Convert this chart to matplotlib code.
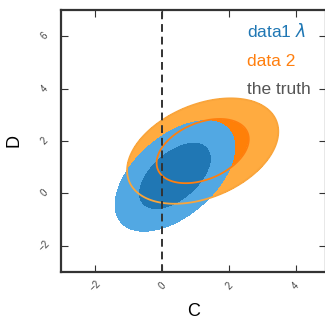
import numpy as np
import matplotlib
matplotlib.use("Agg")
import matplotlib.pyplot as plt
from matplotlib.lines import Line2D

# ---- data ----
chain_names = ["data1 $\\lambda$", "data 2"]
mean_c = [0.38, 1.21]
mean_d = [0.66, 1.61]
sigma_c = [0.72, 0.91]
sigma_d = [0.85, 0.81]
rho = [0.52, 0.37]
truth_c = 0.0
truth_name = "the truth"
conf_levels = [0.6827, 0.9545]
x_ticks = [-2, 0, 2, 4]
y_ticks = [-2, 0, 2, 4, 6]

plt.rcParams['font.family'] = ['Liberation Sans', 'DejaVu Sans']
plt.rcParams['mathtext.fontset'] = 'dejavusans'

fill_colors = [["#2077b4", "#52a8e3"], ["#ff8008", "#ffab40"]]
line_colors = ["#ff7f0e", "#f9a53c"]
text_colors = ["#1f77b4", "#ff7f0e", "#555555"]

fig = plt.figure(figsize=(3.25, 3.2), dpi=100)
ax = fig.add_axes([61/325, 1 - 271.7/320, (326 - 61)/325, (271.7 - 10)/320])

xs = np.linspace(-3.5, 5.5, 500)
ys = np.linspace(-3.5, 7.5, 500)
X, Y = np.meshgrid(xs, ys)
r2 = [-2 * np.log(1 - p) for p in conf_levels]

def maha(i):
    dx = (X - mean_c[i]) / sigma_c[i]
    dy = (Y - mean_d[i]) / sigma_d[i]
    return (dx**2 - 2 * rho[i] * dx * dy + dy**2) / (1 - rho[i]**2)

d_blue = maha(0)
d_orng = maha(1)

ax.contourf(X, Y, d_orng, levels=[0, r2[0], r2[1]], colors=fill_colors[1], zorder=1)
ax.contourf(X, Y, d_blue, levels=[0, r2[0], r2[1]], colors=fill_colors[0], zorder=2)
ax.contour(X, Y, d_orng, levels=[r2[0], r2[1]], colors=line_colors, linewidths=1.3, zorder=3)

ax.axvline(truth_c, color="#333333", lw=1.4, ls=(0, (4, 2.5)), zorder=4)

ax.set_xlim(-3.03, 4.90)
ax.set_ylim(-3.0, 7.0)
ax.set_xticks(x_ticks)
ax.set_yticks(y_ticks)
ax.tick_params(direction="in", length=5, width=0.8, color="#333333",
               top=True, right=True, labelsize=7, labelcolor="#444444")
for lab in ax.get_xticklabels() + ax.get_yticklabels():
    lab.set_rotation(45)
    lab.set_ha("center")
    lab.set_va("center")
ax.tick_params(axis="x", pad=10)
ax.tick_params(axis="y", pad=12)
for sp in ax.spines.values():
    sp.set_color("#333333")
    sp.set_linewidth(1.6)

ax.set_xlabel("C", fontsize=13, labelpad=7)
ax.set_ylabel("D", fontsize=13, labelpad=10)

handles = [Line2D([], [], color=c) for c in text_colors]
leg = ax.legend(handles, chain_names + [truth_name], loc="upper right",
                bbox_to_anchor=(1.0, 1.012), frameon=False, handlelength=0,
                handletextpad=0, fontsize=12.5, labelspacing=0.75)
for t, c in zip(leg.get_texts(), text_colors):
    t.set_color(c)

fig.savefig("out.png", dpi=100)
